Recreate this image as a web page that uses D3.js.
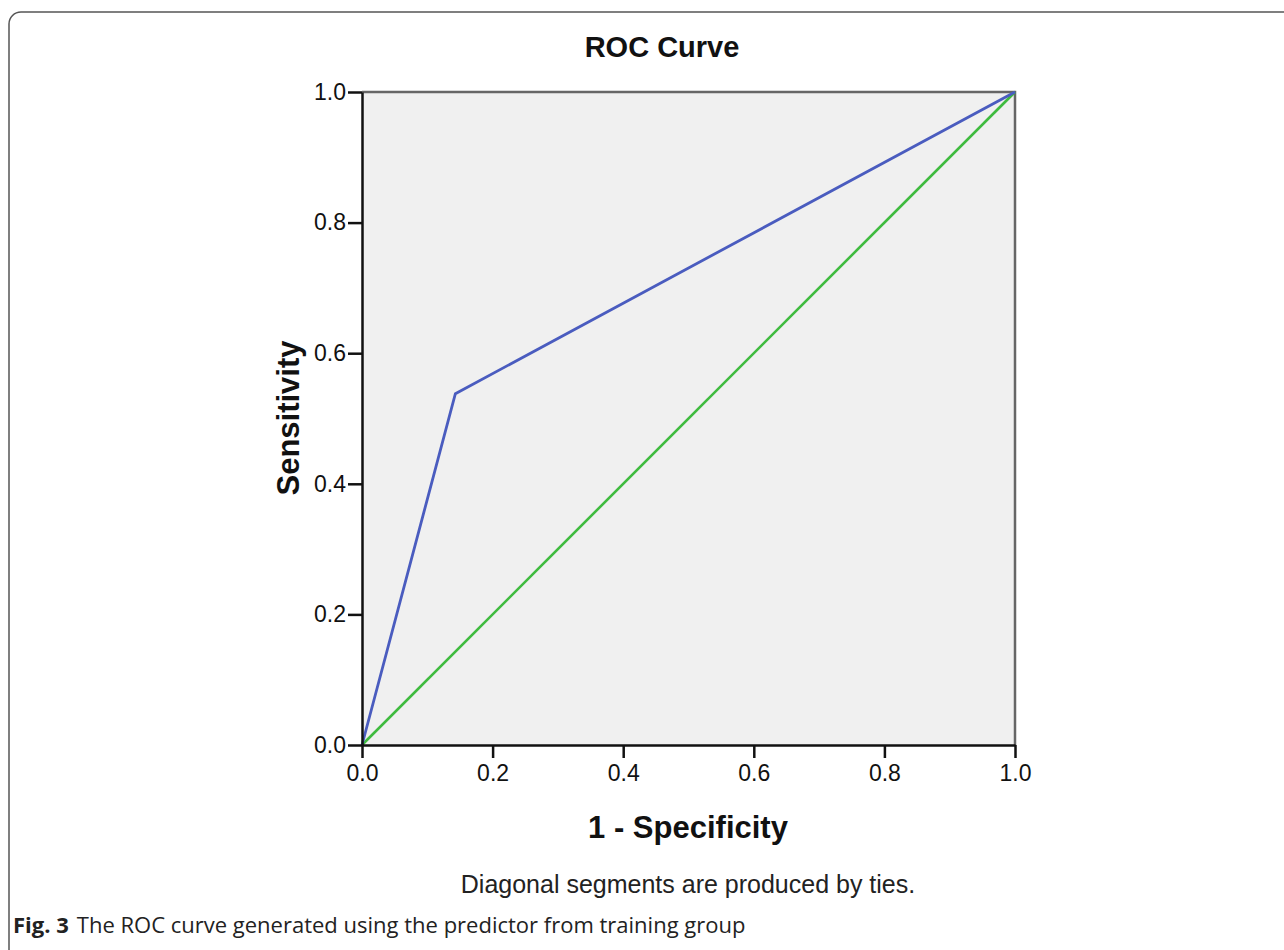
<!DOCTYPE html>
<html>
<head>
<meta charset="utf-8">
<script src="https://cdn.jsdelivr.net/npm/d3@7.9.0/dist/d3.min.js"></script>
<style>
  body { margin: 0; background: #fff; }
  svg { display: block; }
</style>
</head>
<body>
<svg id="chart" width="1284" height="950"></svg>
<script>
// data
const rocFpr = [0, 0.143, 1];
const rocTpr = [0, 0.538, 1];
const refFpr = [0, 1];
const refTpr = [0, 1];
const tickValues = [0, 0.2, 0.4, 0.6, 0.8, 1.0];

const svg = d3.select('#chart');

// figure frame (rounded corner top-left, runs off the page)
svg.append('rect')
  .attr('x', 9).attr('y', 12)
  .attr('width', 1400).attr('height', 1100)
  .attr('rx', 12)
  .attr('fill', 'none')
  .attr('stroke', '#555')
  .attr('stroke-width', 1.5);

const plotLeft = 362, plotTop = 92, plotSize = 653;
const x = d3.scaleLinear().domain([0, 1]).range([plotLeft, plotLeft + plotSize]);
const y = d3.scaleLinear().domain([0, 1]).range([plotTop + plotSize, plotTop]);

// plot background
svg.append('rect')
  .attr('x', plotLeft).attr('y', plotTop)
  .attr('width', plotSize).attr('height', plotSize)
  .attr('fill', '#f0f0f0');

// top / right border
svg.append('path')
  .attr('d', `M${x(0)},${y(1)}H${x(1)}V${y(0)}`)
  .attr('fill', 'none')
  .attr('stroke', '#666')
  .attr('stroke-width', 2.5);

const line = d3.line().x(d => x(d[0])).y(d => y(d[1]));

svg.append('path')
  .datum(d3.zip(refFpr, refTpr))
  .attr('d', line)
  .attr('fill', 'none')
  .attr('stroke', '#3fbb3f')
  .attr('stroke-width', 2.6);

svg.append('path')
  .datum(d3.zip(rocFpr, rocTpr))
  .attr('d', line)
  .attr('fill', 'none')
  .attr('stroke', '#4a5cbf')
  .attr('stroke-width', 2.8);

// axes
const fmt = d3.format('.1f');
const xAxis = svg.append('g')
  .attr('transform', `translate(0,${y(0)})`)
  .call(d3.axisBottom(x).tickValues(tickValues).tickFormat(fmt).tickSize(13).tickSizeOuter(0));
const yAxis = svg.append('g')
  .attr('transform', `translate(${x(0)},0)`)
  .call(d3.axisLeft(y).tickValues(tickValues).tickFormat(fmt).tickSize(14).tickSizeOuter(0));

[xAxis, yAxis].forEach(g => {
  g.select('.domain').attr('stroke', '#111').attr('stroke-width', 2.5);
  g.selectAll('.tick line').attr('stroke', '#111').attr('stroke-width', 2.5);
  g.selectAll('.tick text')
    .attr('fill', '#111')
    .style('font-family', '"Liberation Sans", Arial, sans-serif')
    .style('font-size', '23px');
});
xAxis.selectAll('.tick text').attr('y', 20).attr('dy', '0.71em');
yAxis.selectAll('.tick text').attr('x', -16);

// titles
svg.append('text')
  .attr('x', 662).attr('y', 57)
  .attr('text-anchor', 'middle')
  .style('font-family', '"Liberation Sans", Arial, sans-serif')
  .style('font-size', '29px').style('font-weight', 'bold')
  .attr('fill', '#111')
  .text('ROC Curve');

svg.append('text')
  .attr('x', 688).attr('y', 838)
  .attr('text-anchor', 'middle')
  .style('font-family', '"Liberation Sans", Arial, sans-serif')
  .style('font-size', '31px').style('font-weight', 'bold')
  .attr('fill', '#111')
  .text('1 - Specificity');

svg.append('text')
  .attr('transform', 'translate(299,418) rotate(-90)')
  .attr('text-anchor', 'middle')
  .style('font-family', '"Liberation Sans", Arial, sans-serif')
  .style('font-size', '31px').style('font-weight', 'bold')
  .attr('fill', '#111')
  .text('Sensitivity');

svg.append('text')
  .attr('x', 688).attr('y', 893)
  .attr('text-anchor', 'middle')
  .style('font-family', '"Liberation Sans", Arial, sans-serif')
  .style('font-size', '25px')
  .attr('fill', '#222')
  .text('Diagonal segments are produced by ties.');

// caption
const cap = svg.append('text')
  .attr('x', 13).attr('y', 933)
  .style('font-family', '"Open Sans", "Noto Sans", sans-serif')
  .style('font-size', '22px')
  .attr('fill', '#222');
cap.append('tspan').style('font-weight', 'bold').text('Fig. 3');
cap.append('tspan').attr('dx', 8).text('The ROC curve generated using the predictor from training group');
</script>
</body>
</html>
